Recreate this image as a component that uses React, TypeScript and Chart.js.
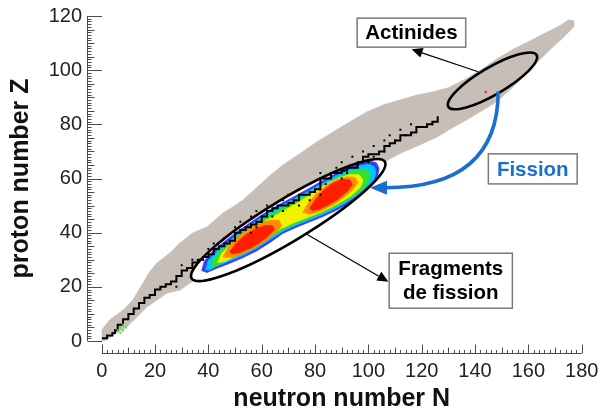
import React, { useEffect, useRef } from "react";
import { Chart, registerables } from "chart.js";

Chart.register(...registerables);

// ---------- axis ranges / ticks ----------
const N_MIN = 0;
const N_MAX = 180;
const Z_MIN = 0;
const Z_MAX = 120;
const TICK_STEP = 20;

// ---------- chart of nuclides (grey band), outline read as [N, Z] ----------
const nuclideUpperEdge: [number, number][] = [
  [-0.8, -0.5], [-0.8, 3], [3, 7.8], [8, 11.4], [11.7, 15.1], [15.5, 21.4], [18, 25.5],
  [20.7, 28.8], [25.6, 32.5], [29.4, 36.2], [34.2, 39.9], [39.5, 42.1], [45.5, 47.3],
  [49.2, 49.5], [53, 52.1], [56, 54.7], [63, 61], [68, 65], [74, 69], [80.7, 73.5],
  [86.8, 77.2], [93, 80.9], [99.5, 84.6], [105.5, 87.1], [111.9, 89], [118.2, 90.8],
  [124, 91.9], [130, 93.5], [136, 96.5], [142, 100], [148, 104], [154, 107.5],
  [160, 110.5], [166, 113.5], [172, 116.5], [175, 118.5], [177, 118.2], [177, 116],
];
const nuclideLowerEdge: [number, number][] = [
  [173, 112], [168, 107.5], [163, 102.6], [158, 97.5], [153, 92.7], [148, 88.3],
  [143, 85.3], [138, 82.3], [132, 79], [125.7, 75.3], [119.4, 72.5], [113, 69.8],
  [108, 67.2], [100, 62], [90, 55.5], [80, 49], [70, 42.5], [60, 36], [50, 30],
  [40, 24.5], [33, 21.4], [29.4, 18.8], [24.5, 17.7], [20.7, 15.1], [16.9, 12.6],
  [13.2, 8.9], [9.4, 5.2], [5.7, 3], [2, 0.5], [-0.8, -0.5],
];

// ---------- valley of stability (black staircase) [N, Z] ----------
const stableValley: [number, number][] = [
  [0, 1], [2, 2], [4, 3], [5, 4], [6, 6], [8, 8], [10, 10], [12, 12], [14, 14], [16, 16],
  [18, 17], [20, 19], [22, 20], [24, 21], [26, 22], [28, 24], [30, 26], [32, 27], [34, 29],
  [36, 30], [38, 31], [40, 32], [42, 34], [44, 35], [46, 36], [48, 37], [50, 38], [50, 40],
  [52, 41], [54, 42], [56, 43], [58, 44], [60, 46], [62, 48], [64, 49], [66, 50], [70, 51],
  [72, 52], [74, 54], [78, 55], [80, 56], [82, 58], [82, 60], [86, 62], [90, 63], [92, 64],
  [96, 66], [98, 68], [100, 69], [104, 70], [106, 72], [108, 73], [110, 74], [112, 76],
  [116, 77], [118, 79], [122, 80], [124, 81], [126, 82], [126, 83],
];
const stableIsolated: [number, number][] = [
  [28, 20], [30, 28], [34, 30], [40, 34], [42, 36], [46, 38], [50, 42], [52, 44], [56, 46],
  [58, 48], [62, 50], [64, 50], [68, 52], [70, 54], [74, 56], [78, 58], [82, 62], [88, 64],
  [90, 66], [94, 68], [98, 70], [102, 72], [106, 74], [108, 76], [112, 78], [116, 80],
  [56, 40], [58, 42], [60, 44], [64, 46], [68, 48], [74, 50], [78, 52], [82, 54], [84, 58],
  [90, 60], [92, 62], [100, 66], [102, 68], [106, 70], [110, 74], [114, 76], [124, 80],
];
const lightYieldCells: [number, number][] = [[6, 4], [7, 5], [8, 4], [9, 5], [7, 3], [8, 6]];
const parentNucleus: [number, number][] = [[144, 92]];

// ---------- fission fragment yield contours [N, Z] ----------
const fragBlue: [number, number][] = [
  [37.5, 26], [38.5, 29.5], [42, 33.5], [47, 37.5], [52, 41.2], [57, 44.6], [62, 47.8],
  [67, 50.6], [72, 53.2], [77, 55.9], [82, 58.7], [87, 61.4], [92, 63.8], [97, 65.6],
  [100.5, 66.5], [103, 65.8], [104, 63.8], [103.5, 61], [101, 57.8], [97.5, 54.3], [93, 51],
  [88, 48.3], [83, 46], [78, 44], [73, 42], [68, 39.8], [63, 36.3], [58, 33.2], [53, 30.8],
  [48, 28.7], [43, 26.8], [39.5, 25.3],
];
const fragCyan: [number, number][] = [
  [39, 26.3], [40, 29.6], [43, 33], [47.5, 36.6], [52, 40.2], [57, 43.7], [62, 46.9],
  [67, 49.7], [72, 52.3], [77, 55], [82, 57.8], [87, 60.5], [92, 62.9], [96.5, 64.6],
  [100, 65.3], [102.3, 64.3], [102.8, 62], [102, 59.5], [99.5, 57], [96, 54], [92, 51.3],
  [87.5, 48.9], [83, 46.8], [78, 44.8], [73, 42.8], [68, 40.6], [63, 37.4], [58, 34.2],
  [53, 31.7], [48, 29.6], [43, 27.6], [40.5, 26.2],
];
const fragGreen: [number, number][] = [
  [41, 27], [42, 30.5], [45, 33.8], [49, 37.3], [53, 40.3], [57, 42.9], [62, 45.9],
  [67, 48.7], [72, 51.3], [77, 54.1], [82, 57], [87, 59.6], [92, 61.9], [96, 63.3],
  [99.5, 63.2], [100.8, 61], [99.5, 58], [96.5, 55], [92.5, 52.2], [88, 49.8], [83.5, 47.6],
  [78.5, 45.6], [73.5, 43.6], [68.5, 41.4], [63.5, 38.6], [58.5, 35.2], [53.5, 32.6],
  [48.5, 30.5], [44, 28.6], [42, 27.3],
];
const fragYellow: [number, number][] = [
  [43.5, 29], [45, 32.3], [48.5, 36], [53, 39.6], [57, 42.2], [61, 44.2], [65, 46.3],
  [69, 48.5], [73, 50.7], [77, 53.3], [81, 55.9], [85, 58.3], [89, 60.2], [93, 61.4],
  [96.5, 61.4], [98, 59.5], [97, 56.8], [94, 54], [90, 51.5], [86, 49.4], [82, 47.5],
  [77, 45.6], [72, 43.7], [67, 41.4], [63, 38.9], [59, 35.8], [54.5, 33.3], [50, 31.2],
  [46, 29.3],
];
const fragOrangeLight: [number, number][] = [
  [45.5, 31], [47.5, 34.7], [51, 38.3], [55, 41.4], [59, 43.5], [63, 44.6], [66.5, 44.6],
  [67.5, 42.5], [65, 39.8], [61.5, 37], [57.5, 34.5], [53, 32.4], [49, 30.8],
];
const fragOrangeHeavy: [number, number][] = [
  [75.5, 47.5], [77.5, 51], [80.5, 54.4], [84, 57.3], [88, 59.5], [92, 60.6], [95, 60.4],
  [96, 58.5], [94, 55.8], [90.5, 52.8], [86.5, 50.2], [82, 48], [78, 46.8],
];
const fragRedLight: [number, number][] = [
  [48, 33], [50.5, 36.2], [54, 39.2], [57.5, 41.3], [61, 42.6], [64, 42.6], [64.8, 41.2],
  [62.5, 38.8], [59, 36.2], [55.5, 34.2], [51.5, 32.6], [49, 32.2],
];
const fragRedHeavy: [number, number][] = [
  [78, 49], [80, 52], [83, 55.5], [86.5, 58.2], [90, 59.6], [93, 59.5], [94, 57.8],
  [92, 55.2], [88.5, 52.3], [85, 50.3], [81.5, 48.6], [79, 48.2],
];

// ---------- annotation geometry (data coordinates) ----------
const FRAG_ELLIPSE = { a: [33.7, 23.1], b: [106.2, 66.2], halfWidthPx: 21 };
const ACTI_ELLIPSE = { a: [130.0, 86.5], b: [163.1, 105.6], halfWidthPx: 13.5 };
const BOX_ACTINIDES = { n0: 95.8, n1: 136.5, z0: 119.2, z1: 108.5, lines: ["Actinides"] };
const BOX_FISSION = { n0: 145, n1: 178.3, z0: 69.1, z1: 58.0, lines: ["Fission"] };
const BOX_FRAGMENTS = { n0: 107.8, n1: 154, z0: 32.4, z1: 12.1, lines: ["Fragments", "de fission"] };
const ARROW_ACTINIDES = { from: [141.2, 99.4], to: [116.2, 107.7] };
const ARROW_FRAGMENTS = { from: [76.9, 39.4], to: [107.5, 21.9] };
const FISSION_CURVE = { from: [148.7, 92.1], ctrl: [148.6, 56.5], to: [100.6, 56.6] };

const FONT = '"Liberation Sans", Arial, Helvetica, sans-serif';
const GREY = "#c7bfb7";
const BLUE_TXT = "#1a6ed2";

const toXY = (a: [number, number][]) => a.map(([x, y]) => ({ x, y }));

function polygon(pts: [number, number][], color: string) {
  return {
    type: "line",
    data: toXY([...pts, pts[0]]),
    fill: "shape",
    backgroundColor: color,
    borderColor: color,
    borderWidth: 0.8,
    pointRadius: 0,
    tension: 0,
  };
}

export default function App() {
  const ref = useRef<HTMLCanvasElement>(null);

  useEffect(() => {
    const canvas = ref.current;
    if (!canvas) return;

    const layers: any[] = [
      polygon([...nuclideUpperEdge, ...nuclideLowerEdge], GREY),
      polygon(fragBlue, "#3b3bff"),
      polygon(fragCyan, "#00c8ff"),
      polygon(fragGreen, "#2ee22e"),
      polygon(fragYellow, "#f2f200"),
      polygon(fragOrangeLight, "#ff8c00"),
      polygon(fragOrangeHeavy, "#ff8c00"),
      polygon(fragRedLight, "#ff1e00"),
      polygon(fragRedHeavy, "#ff1e00"),
      {
        type: "line",
        data: toXY(stableValley),
        stepped: "before",
        borderColor: "#000",
        borderWidth: 2,
        pointRadius: 0,
        fill: false,
      },
      {
        type: "scatter",
        data: toXY(stableIsolated),
        pointStyle: "rect",
        pointRadius: 1.4,
        backgroundColor: "#000",
        borderWidth: 0,
      },
      {
        type: "scatter",
        data: toXY(lightYieldCells),
        pointStyle: "rect",
        pointRadius: 1.4,
        backgroundColor: "#33ee33",
        borderWidth: 0,
      },
      {
        type: "scatter",
        data: toXY(parentNucleus),
        pointStyle: "rect",
        pointRadius: 1.5,
        backgroundColor: "#ff2020",
        borderWidth: 0,
      },
    ];
    layers.forEach((d, i) => (d.order = 100 - i));

    const px = (chart: any, p: number[]) => [
      chart.scales.x.getPixelForValue(p[0]),
      chart.scales.y.getPixelForValue(p[1]),
    ];

    const ellipsePath = (chart: any, e: any) => {
      const [x1, y1] = px(chart, e.a);
      const [x2, y2] = px(chart, e.b);
      const cx = (x1 + x2) / 2;
      const cy = (y1 + y2) / 2;
      const A = Math.hypot(x2 - x1, y2 - y1) / 2;
      const ang = Math.atan2(y2 - y1, x2 - x1);
      const ctx = chart.ctx;
      ctx.beginPath();
      ctx.ellipse(cx, cy, A, e.halfWidthPx, ang, 0, Math.PI * 2);
    };

    const arrow = (ctx: any, x1: number, y1: number, x2: number, y2: number,
      color: string, w: number, hl: number, hw: number) => {
      const ang = Math.atan2(y2 - y1, x2 - x1);
      const bx = x2 - hl * Math.cos(ang);
      const by = y2 - hl * Math.sin(ang);
      ctx.strokeStyle = color;
      ctx.lineWidth = w;
      ctx.beginPath();
      ctx.moveTo(x1, y1);
      ctx.lineTo(bx, by);
      ctx.stroke();
      ctx.fillStyle = color;
      ctx.beginPath();
      ctx.moveTo(x2, y2);
      ctx.lineTo(bx + hw * Math.sin(ang), by - hw * Math.cos(ang));
      ctx.lineTo(bx - hw * Math.sin(ang), by + hw * Math.cos(ang));
      ctx.closePath();
      ctx.fill();
    };

    const drawBox = (chart: any, b: any, color: string) => {
      const ctx = chart.ctx;
      const [xa, ya] = px(chart, [b.n0, b.z0]);
      const [xb, yb] = px(chart, [b.n1, b.z1]);
      ctx.fillStyle = "#fff";
      ctx.fillRect(xa, ya, xb - xa, yb - ya);
      ctx.strokeStyle = "#7a7a7a";
      ctx.lineWidth = 1.5;
      ctx.strokeRect(xa, ya, xb - xa, yb - ya);
      ctx.fillStyle = color;
      ctx.font = `bold 20.5px ${FONT}`;
      ctx.textAlign = "center";
      ctx.textBaseline = "middle";
      const cx = (xa + xb) / 2;
      const cy = (ya + yb) / 2 + 1;
      const lh = 24;
      b.lines.forEach((t: string, i: number) => {
        ctx.fillText(t, cx, cy + (i - (b.lines.length - 1) / 2) * lh);
      });
    };

    const annotations = {
      id: "annotations",
      afterDatasetDraw(chart: any, args: any) {
        if (args.index === 0) {
          // fragments ellipse interior is blanked before the yields are drawn
          const ctx = chart.ctx;
          ctx.save();
          ellipsePath(chart, FRAG_ELLIPSE);
          ctx.fillStyle = "#fff";
          ctx.fill();
          ctx.restore();
        }
      },
      afterDatasetsDraw(chart: any) {
        const ctx = chart.ctx;
        ctx.save();
        ctx.strokeStyle = "#000";
        ctx.lineWidth = 2.6;
        ellipsePath(chart, FRAG_ELLIPSE);
        ctx.stroke();
        ellipsePath(chart, ACTI_ELLIPSE);
        ctx.stroke();

        let [x1, y1] = px(chart, ARROW_ACTINIDES.from);
        let [x2, y2] = px(chart, ARROW_ACTINIDES.to);
        arrow(ctx, x1, y1, x2, y2, "#000", 1.2, 11, 5);
        [x1, y1] = px(chart, ARROW_FRAGMENTS.from);
        [x2, y2] = px(chart, ARROW_FRAGMENTS.to);
        arrow(ctx, x1, y1, x2, y2, "#000", 1.2, 11, 5);

        const [sx, sy] = px(chart, FISSION_CURVE.from);
        const [cx, cy] = px(chart, FISSION_CURVE.ctrl);
        const [ex, ey] = px(chart, FISSION_CURVE.to);
        const ang = Math.atan2(ey - cy, ex - cx);
        const hl = 17;
        const bx = ex - hl * Math.cos(ang);
        const by = ey - hl * Math.sin(ang);
        ctx.strokeStyle = BLUE_TXT;
        ctx.lineWidth = 3.6;
        ctx.beginPath();
        ctx.moveTo(sx, sy);
        ctx.quadraticCurveTo(cx, cy, bx + 2 * Math.cos(ang), by + 2 * Math.sin(ang));
        ctx.stroke();
        ctx.fillStyle = BLUE_TXT;
        ctx.beginPath();
        ctx.moveTo(ex, ey);
        ctx.lineTo(bx + 7 * Math.sin(ang), by - 7 * Math.cos(ang));
        ctx.lineTo(bx - 7 * Math.sin(ang), by + 7 * Math.cos(ang));
        ctx.closePath();
        ctx.fill();

        drawBox(chart, BOX_ACTINIDES, "#000");
        drawBox(chart, BOX_FISSION, BLUE_TXT);
        drawBox(chart, BOX_FRAGMENTS, "#000");
        ctx.restore();
      },
      afterDraw(chart: any) {
        const ctx = chart.ctx;
        const xs = chart.scales.x;
        const ys = chart.scales.y;
        const yLineX = Math.round(xs.getPixelForValue(N_MIN) - 14.5) + 0.5;
        const xLineY = Math.round(ys.getPixelForValue(Z_MIN) + 12) + 0.5;
        ctx.save();
        ctx.strokeStyle = "#4a4a4a";
        ctx.lineWidth = 1;
        ctx.beginPath();
        ctx.moveTo(xs.getPixelForValue(N_MIN), xLineY);
        ctx.lineTo(xs.getPixelForValue(N_MAX), xLineY);
        for (let v = N_MIN; v <= N_MAX; v += 2) {
          const len = v % 20 === 0 ? 9 : v % 10 === 0 ? 6 : 3.5;
          const p = Math.round(xs.getPixelForValue(v)) + 0.5;
          ctx.moveTo(p, xLineY);
          ctx.lineTo(p, xLineY - len);
        }
        ctx.moveTo(yLineX, ys.getPixelForValue(Z_MIN));
        ctx.lineTo(yLineX, ys.getPixelForValue(Z_MAX));
        for (let v = Z_MIN; v <= Z_MAX; v += 1) {
          const len = v % 20 === 0 ? 14.5 : v % 5 === 0 ? 7 : 4;
          const p = Math.round(ys.getPixelForValue(v)) + 0.5;
          ctx.moveTo(yLineX, p);
          ctx.lineTo(yLineX + len, p);
        }
        ctx.stroke();
        ctx.restore();
      },
    };

    const zeroPad = (s: any) => {
      s.paddingTop = 0;
      s.paddingBottom = 0;
      s.paddingLeft = 0;
      s.paddingRight = 0;
    };

    const chart = new Chart(canvas, {
      type: "scatter",
      data: { datasets: layers },
      options: {
        responsive: false,
        animation: false,
        devicePixelRatio: 1,
        events: [],
        layout: { padding: { top: 16, right: 20.3, bottom: 0, left: 0 } },
        plugins: { legend: { display: false }, tooltip: { enabled: false } },
        elements: { line: { tension: 0 } },
        scales: {
          x: {
            type: "linear",
            position: "bottom",
            min: N_MIN,
            max: N_MAX,
            grid: { display: false, drawTicks: false },
            border: { display: false },
            ticks: {
              stepSize: TICK_STEP,
              autoSkip: false,
              maxRotation: 0,
              padding: 18,
              color: "#222",
              font: { family: FONT, size: 20 },
            },
            title: {
              display: true,
              text: "neutron number N",
              color: "#111",
              font: { family: FONT, size: 25, weight: "bold", lineHeight: 1 },
              padding: { top: 0, bottom: 0 },
            },
            afterFit: (s: any) => {
              s.height = 71;
              zeroPad(s);
            },
          },
          y: {
            type: "linear",
            position: "left",
            min: Z_MIN,
            max: Z_MAX,
            grid: { display: false, drawTicks: false },
            border: { display: false },
            ticks: {
              stepSize: TICK_STEP,
              autoSkip: false,
              padding: 19.7,
              color: "#222",
              font: { family: FONT, size: 20 },
            },
            title: {
              display: true,
              text: "proton number Z",
              color: "#111",
              font: { family: FONT, size: 25, weight: "bold", lineHeight: 1 },
              padding: { top: 9, bottom: 0 },
            },
            afterFit: (s: any) => {
              s.width = 101.7;
              zeroPad(s);
            },
          },
        },
      } as any,
      plugins: [annotations],
    } as any);

    return () => chart.destroy();
  }, []);

  return (
    <div style={{ position: "fixed", left: 0, top: 0, width: 602, height: 412, background: "#fff" }}>
      <canvas ref={ref} width={602} height={412} style={{ display: "block" }} />
    </div>
  );
}
